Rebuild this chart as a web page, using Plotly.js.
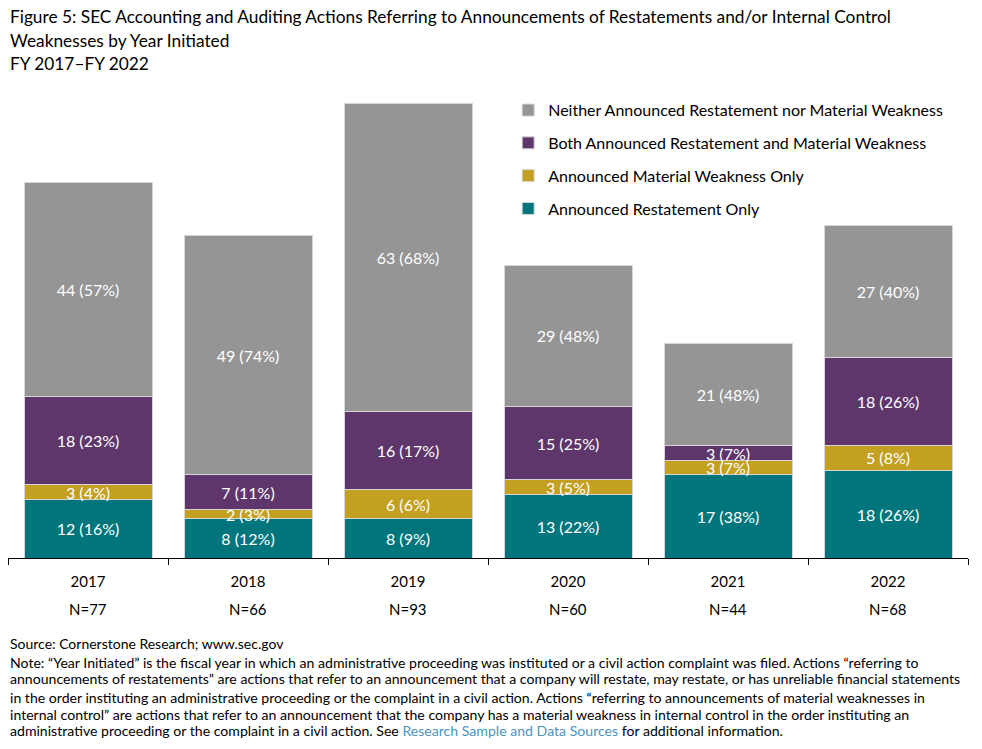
<!DOCTYPE html>
<html>
<head>
<meta charset="utf-8">
<script src="https://cdn.plot.ly/plotly-3.0.1.min.js"></script>
<style>html,body{margin:0;padding:0;background:#fff;}#chart{width:982px;height:749px;}</style>
</head>
<body>
<div id="chart"></div>
<script>
const years = ["2017", "2018", "2019", "2020", "2021", "2022"];
const restatementOnly = [12, 8, 8, 13, 17, 18];
const restatementOnlyPct = [16, 12, 9, 22, 38, 26];
const weaknessOnly = [3, 2, 6, 3, 3, 5];
const weaknessOnlyPct = [4, 3, 6, 5, 7, 8];
const both = [18, 7, 16, 15, 3, 18];
const bothPct = [23, 11, 17, 25, 7, 26];
const neither = [44, 49, 63, 29, 21, 27];
const neitherPct = [57, 74, 68, 48, 48, 40];
const totals = [77, 66, 93, 60, 44, 68];

const FONT = "Lato, 'Open Sans', sans-serif";
const PLOT_T = 95, PLOT_B = 558, PLOT_H = PLOT_B - PLOT_T;
function py(pix) { return (PLOT_B - pix) / PLOT_H; }

function lbl(v, p) { return v.map((x, i) => x + " (" + p[i] + "%)"); }

function barTrace(name, vals, pcts, color, rank) {
  return {
    type: "bar", name: name, x: years, y: vals,
    text: lbl(vals, pcts), textposition: "inside", insidetextanchor: "middle",
    constraintext: "none",
    textfont: {family: FONT, size: 16, color: "#ffffff"},
    marker: {color: color, line: {color: "#d6d6d6", width: 1}},
    legendgroup: "g" + rank, legendrank: rank,
    hoverinfo: "skip"
  };
}

const data = [
  barTrace("Announced Restatement Only", restatementOnly, restatementOnlyPct, "#00757B", 4),
  barTrace("Announced Material Weakness Only", weaknessOnly, weaknessOnlyPct, "#C3A01F", 3),
  barTrace("Both Announced Restatement and Material Weakness", both, bothPct, "#5E366C", 2),
  barTrace("Neither Announced Restatement nor Material Weakness", neither, neitherPct, "#959595", 1)
];

const annotations = years.map((y, i) => ({
  x: i, xref: "x", y: py(609), yref: "paper",
  text: "N=" + totals[i], showarrow: false, yanchor: "middle",
  font: {family: FONT, size: 15, color: "#000"}
}));

const titleLines = [
  "Figure 5: SEC Accounting and Auditing Actions Referring to Announcements of Restatements and/or Internal Control",
  "Weaknesses by Year Initiated",
  "FY 2017–FY 2022"
];
const titleY = [17, 41, 64];
titleLines.forEach((t, i) => annotations.push({
  x: 0, xref: "paper", xanchor: "left", y: py(titleY[i]), yref: "paper", yanchor: "middle",
  showarrow: false, align: "left", text: t,
  font: {family: FONT, size: 17.3, color: "#000"}
}));

annotations.push({
  x: 0, xref: "paper", xanchor: "left", y: py(643), yref: "paper", yanchor: "middle",
  text: "Source: Cornerstone Research; www.sec.gov", showarrow: false, align: "left",
  font: {family: FONT, size: 14, color: "#000"}
});
const noteLines = [
  "Note: “Year Initiated” is the fiscal year in which an administrative proceeding was instituted or a civil action complaint was filed. Actions “referring to",
  "announcements of restatements” are actions that refer to an announcement that a company will restate, may restate, or has unreliable financial statements",
  "in the order instituting an administrative proceeding or the complaint in a civil action. Actions “referring to announcements of material weaknesses in",
  "internal control” are actions that refer to an announcement that the company has a material weakness in internal control in the order instituting an",
  "administrative proceeding or the complaint in a civil action. See <span style='color:#4F93BE'>Research Sample and Data Sources</span> for additional information."
];
const noteY = [662, 679, 697, 714, 730];
noteLines.forEach((t, i) => annotations.push({
  x: 0, xref: "paper", xanchor: "left", y: py(noteY[i]), yref: "paper", yanchor: "middle",
  showarrow: false, align: "left", text: t,
  font: {family: FONT, size: 14.1, color: "#000"}
}));

const layout = {
  width: 982, height: 749,
  margin: {l: 8, r: 14, t: PLOT_T, b: 749 - PLOT_B},
  paper_bgcolor: "#fff", plot_bgcolor: "#fff",
  barmode: "stack", bargap: 0.2,
  font: {family: FONT, color: "#000"},
  xaxis: {
    type: "category", categoryorder: "array", categoryarray: years, range: [-0.5, 5.5],
    showline: true, linecolor: "#000", linewidth: 1,
    ticks: "outside", tickson: "boundaries", ticklen: 6, tickcolor: "#000",
    ticklabelstandoff: 10,
    tickfont: {family: FONT, size: 15, color: "#000"}, showgrid: false, fixedrange: true
  },
  yaxis: {range: [0, PLOT_H / 4.883], visible: false, showgrid: false, zeroline: false, fixedrange: true},
  showlegend: true,
  legend: {
    x: 0.521, xanchor: "left", y: 1.004, yanchor: "top", traceorder: "grouped",
    tracegroupgap: 9, font: {family: FONT, size: 16, color: "#000"},
    bgcolor: "rgba(0,0,0,0)"
  },
  annotations: annotations
};

Plotly.newPlot("chart", data, layout, {staticPlot: true, displayModeBar: false});
</script>
</body>
</html>
